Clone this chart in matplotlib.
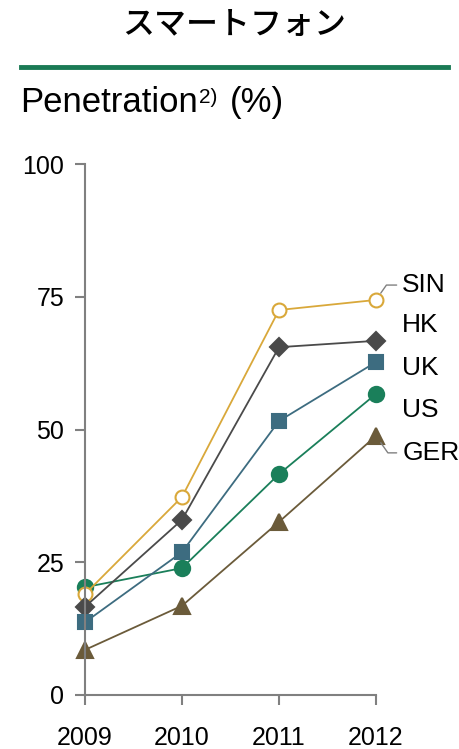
import matplotlib
matplotlib.use('Agg')
import matplotlib.pyplot as plt
from matplotlib.lines import Line2D

plt.rcParams['font.family'] = ['Liberation Sans', 'DejaVu Sans']

years = [2009, 2010, 2011, 2012]
sin = [19.0, 37.3, 72.5, 74.4]
hk = [16.6, 33.0, 65.5, 66.7]
uk = [13.7, 26.9, 51.6, 62.7]
us = [20.3, 23.9, 41.6, 56.7]
ger = [8.5, 16.8, 32.6, 48.8]

names = ['SIN', 'HK', 'UK', 'US', 'GER']
label_y = [77.2, 69.7, 61.6, 53.7, 45.6]
y_ticks = [0, 25, 50, 75, 100]

GRAY = '#808080'
series = {
    'US': (us, '#1a7f5a', 'o', 11, '#1a7f5a'),
    'SIN': (sin, '#d9a83a', 'o', 10, 'white'),
    'HK': (hk, '#4a4a4a', 'D', 9, '#4a4a4a'),
    'UK': (uk, '#3d6c80', 's', 10, '#3d6c80'),
    'GER': (ger, '#6b5b3a', '^', 12, '#6b5b3a'),
}

fig = plt.figure(figsize=(4.6, 7.49), dpi=100)
ax = fig.add_axes([85 / 460, 1 - 695 / 749, 291 / 460, 531 / 749])

# heading + rule
fig.text(0.51, 0.966, 'スマートフォン', ha='center', va='center', fontsize=23,
         weight='medium', family=['Noto Sans CJK JP', 'DejaVu Sans'])
fig.add_artist(Line2D([21 / 460, 448 / 460], [1 - 67 / 749, 1 - 67 / 749],
                      color='#1a7a55', lw=3.5, transform=fig.transFigure))

# unit line: "Penetration" + small superscript + "(%)"
t1 = fig.text(20 / 460, 1 - 112 / 749, 'Penetration', ha='left',
              va='baseline', fontsize=25)
ax.annotate('2)', xy=(1, 0.93), xycoords=t1, xytext=(1, 0),
            textcoords='offset points', ha='left', va='top', fontsize=15,
            annotation_clip=False)
ax.annotate('(%)', xy=(1, 0), xycoords=t1, xytext=(23, 0),
            textcoords='offset points', ha='left', va='bottom', fontsize=25,
            annotation_clip=False)

for name, (vals, col, mk, ms, face) in series.items():
    ax.plot(years, vals, color=col, lw=1.3, marker=mk, ms=ms, mfc=face,
            mec=col, mew=1.5, clip_on=False)

for name, ly in zip(names, label_y):
    vals, col = series[name][0], series[name][1]
    props = None
    if name == 'SIN':
        props = dict(arrowstyle='-', color=GRAY, lw=1, shrinkA=2, shrinkB=6,
                     connectionstyle='angle,angleA=0,angleB=55,rad=0')
    elif name == 'GER':
        props = dict(arrowstyle='-', color=GRAY, lw=1, shrinkA=2, shrinkB=6,
                     connectionstyle='angle,angleA=0,angleB=-55,rad=0')
    ax.annotate(name, xy=(years[-1], vals[-1]), xytext=(2012.27, ly),
                textcoords='data', ha='left', va='center', fontsize=19,
                arrowprops=props, annotation_clip=False)

ax.set_xlim(2009, 2012)
ax.set_ylim(0, 100)
ax.set_xticks(years)
ax.set_yticks(y_ticks)
for s in ['top', 'right']:
    ax.spines[s].set_visible(False)
for s in ['left', 'bottom']:
    ax.spines[s].set_color(GRAY)
    ax.spines[s].set_linewidth(1.5)
ax.tick_params(axis='both', direction='out', length=7, width=1.5, color=GRAY,
               labelsize=18)
ax.tick_params(axis='x', pad=15)
ax.tick_params(axis='y', pad=8)

fig.savefig('out.png', dpi=100)
